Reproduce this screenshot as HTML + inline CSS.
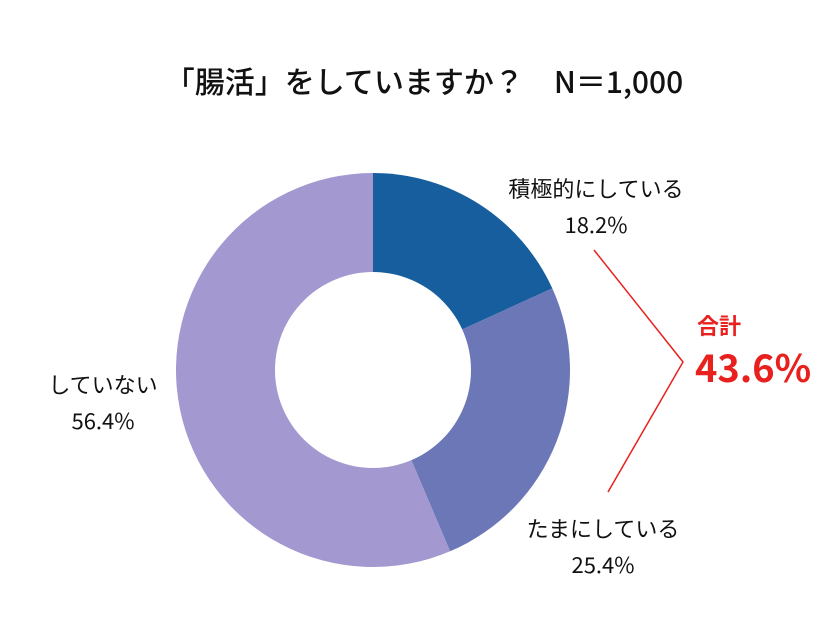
<!DOCTYPE html>
<html><head><meta charset="utf-8">
<style>
body{margin:0;background:#fff;}
svg text{font-family:"Noto Sans CJK JP","Liberation Sans",sans-serif;}
</style></head>
<body>
<svg width="840" height="630" viewBox="0 0 840 630">
<text x="424" y="93" text-anchor="middle" font-size="30" font-weight="500" fill="#111">「腸活」をしていますか？　N＝1,000</text>
<g id="slices"></g>
<circle cx="373" cy="370" r="98" fill="#fff"/>
<text x="596" y="197" text-anchor="middle" font-size="22" fill="#111">積極的にしている</text>
<text x="596" y="233" text-anchor="middle" font-size="22" fill="#111">18.2%</text>
<text x="603" y="537" text-anchor="middle" font-size="22" fill="#111">たまにしている</text>
<text x="603" y="573" text-anchor="middle" font-size="22" fill="#111">25.4%</text>
<text x="103" y="393" text-anchor="middle" font-size="22" fill="#111">していない</text>
<text x="103" y="429" text-anchor="middle" font-size="22" fill="#111">56.4%</text>
<polyline points="594,250 683,362 608,492" fill="none" stroke="#e8201e" stroke-width="1.5"/>
<text x="697" y="334" font-size="22" font-weight="bold" fill="#e8201e">合計</text>
<text x="695" y="382" font-size="38" font-weight="bold" fill="#e8201e">43.6%</text>
</svg>
<script>
const categories=["積極的にしている","たまにしている","していない"];
const values=[18.2,25.4,56.4];
const colors=["#175e9f","#6b77b6","#a399d0"];
const cx=373,cy=370,R=197;
const g=document.getElementById('slices');
const total=values.reduce((a,b)=>a+b,0);
let a0=0;
values.forEach((v,i)=>{
  const a1=a0+v/total*2*Math.PI;
  const x0=cx+R*Math.sin(a0),y0=cy-R*Math.cos(a0);
  const x1=cx+R*Math.sin(a1),y1=cy-R*Math.cos(a1);
  const large=(a1-a0)>Math.PI?1:0;
  const p=document.createElementNS('http://www.w3.org/2000/svg','path');
  p.setAttribute('d',`M${cx},${cy}L${x0},${y0}A${R},${R} 0 ${large} 1 ${x1},${y1}Z`);
  p.setAttribute('fill',colors[i]);
  
  
  g.appendChild(p);
  a0=a1;
});
</script>
</body></html>
